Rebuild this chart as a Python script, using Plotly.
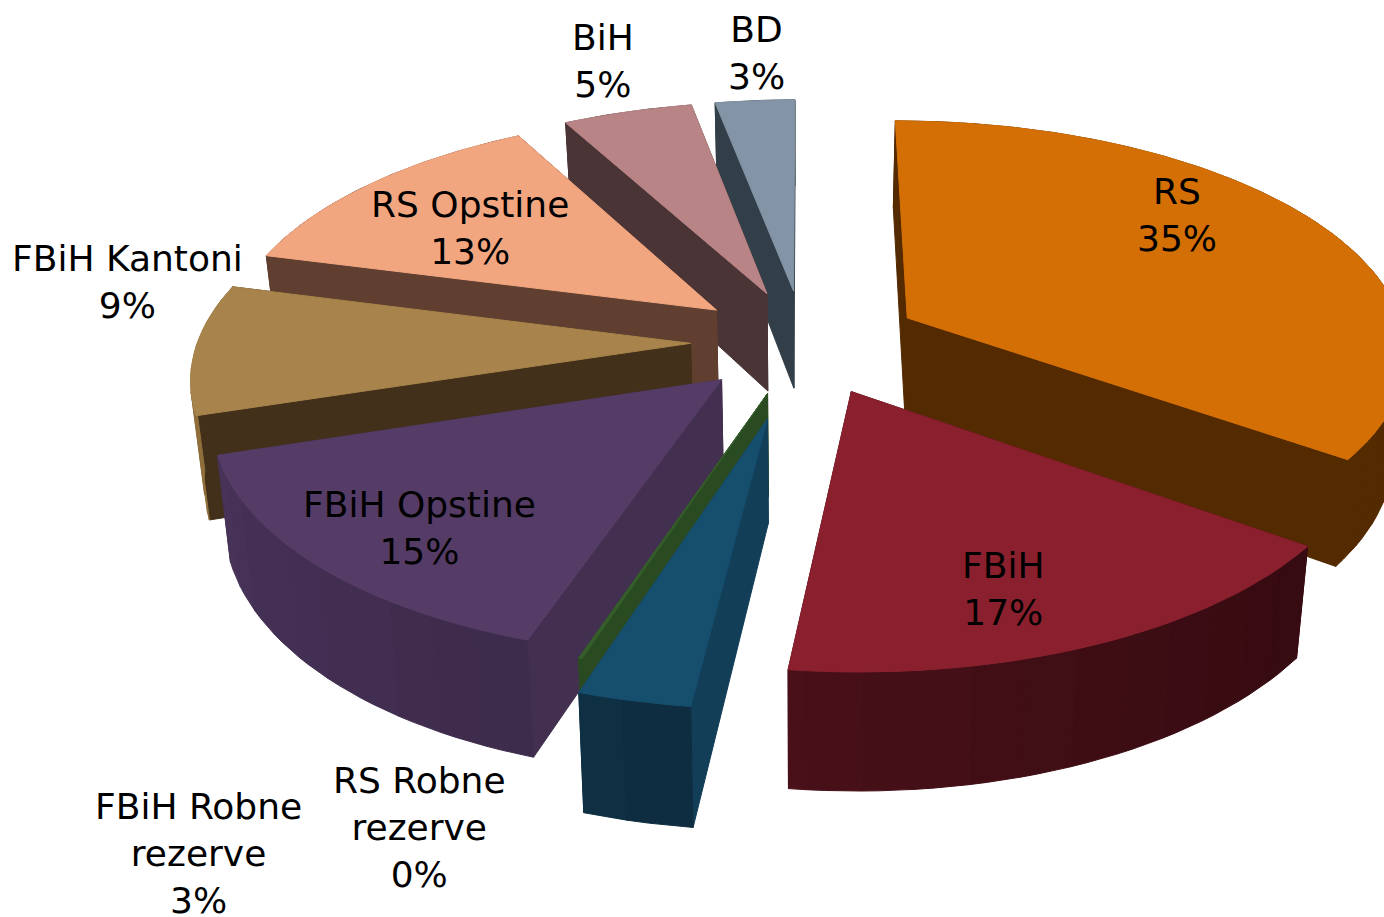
import numpy as np
import plotly.graph_objects as go

names = ["RS", "FBiH", "FBiH Robne<br>rezerve", "RS Robne<br>rezerve", "FBiH Opstine",
         "FBiH Kantoni", "RS Opstine", "BiH", "BD"]
values = [35, 16.9, 3.1, 0.1, 15, 9, 13, 4.9, 3]
explode = [0.235, 0.23, 0.33, 0.23, 0.23, 0.23, 0.23, 0.23, 0.23]
top_colors = ["#D36F05", "#8A202D", "#164E6E", "#355E2B", "#553C66", "#A8844C", "#F2A680", "#B88486", "#8294A6"]
radial_colors = ["#542A00", "#3F0D14", "#123E58", "#2A4A22", "#433050", "#42301A", "#603F30", "#4A3436", "#333F48"]
outer_left = ["#542A00", "#4A111A", "#103246", "#2A4A22", "#48335A", "#8F6F3C", "#603F30", "#4A3436", "#333F48"]
outer_right = ["#542A00", "#360B11", "#0E2D40", "#2A4A22", "#3E2C4C", "#8F6F3C", "#603F30", "#4A3436", "#333F48"]
label_pos = [(1177, 215), (1003, 589), (198, 853), (419, 827), (419, 528), (127, 282), (470, 228), (603, 61), (756, 53)]

CX, CY, SX_LEFT, SX_RIGHT, SY, K, H, TAPER = 804, 342, 493, 500, 229, 0.132, 100, 0.022


def project(X, Y, z):
    X, Y = np.asarray(X), np.asarray(Y)
    d = 1 + K * Y
    s = np.where(X < 0, SX_LEFT, SX_RIGHT)
    return CX + s * X / d * (1 - TAPER * z), CY - (SY * Y - H * z) / d


def hex_rgb(c):
    return np.array([int(c[i:i + 2], 16) for i in (1, 3, 5)])


def mix(a, b, t):
    v = (1 - t) * hex_rgb(a) + t * hex_rgb(b)
    return "rgb(%d,%d,%d)" % tuple(v)


fig = go.Figure()


def poly(xs, ys, color):
    fig.add_trace(go.Scatter(x=list(xs) + [xs[0]], y=list(ys) + [ys[0]], mode="lines", fill="toself",
                             fillcolor=color, line=dict(color=color, width=1),
                             hoverinfo="skip", showlegend=False))


total = sum(values)
edges = np.cumsum([0] + values) / total * 2 * np.pi
wedges = []
for i, v in enumerate(values):
    a0, a1 = edges[i], edges[i + 1]
    mid = (a0 + a1) / 2
    ex, ey = explode[i] * np.sin(mid), explode[i] * np.cos(mid)
    wedges.append((ey, i, a0, a1, ex, ey))

for _, i, a0, a1, ex, ey in sorted(wedges, key=lambda w: -w[0]):
    n = max(3, int((a1 - a0) / 0.03))
    t = np.linspace(a0, a1, n)
    Xo, Yo = ex + np.sin(t), ey + np.cos(t)
    faces = []
    step = 3
    for j in range(0, n - 1, step):
        k = min(j + step, n - 1)
        idx = np.arange(j, k + 1)
        faces.append((Yo[idx].mean(), list(Xo[idx]), list(Yo[idx]),
                      mix(outer_left[i], outer_right[i], 1 - j / (n - 1))))
    faces.append((ey + np.cos(a0) / 2, [ex, Xo[0]], [ey, Yo[0]], radial_colors[i]))
    faces.append((ey + np.cos(a1) / 2, [ex, Xo[-1]], [ey, Yo[-1]], radial_colors[i]))
    for _, fx, fy, col in sorted(faces, key=lambda f: -f[0]):
        x0, y0 = project(fx, fy, 0)
        x1, y1 = project(fx, fy, 1)
        poly(list(x0) + list(x1[::-1]), list(y0) + list(y1[::-1]), col)
    tx, ty = project([ex] + list(Xo), [ey] + list(Yo), 0)
    poly(list(tx), list(ty), top_colors[i])

for nm, v, (x, y) in zip(names, values, label_pos):
    fig.add_annotation(x=x, y=y, text=f"{nm}<br>{round(v)}%", showarrow=False, xanchor="center", yanchor="middle",
                       font=dict(family="DejaVu Sans", size=36, color="#000000"), align="center")

fig.update_layout(width=1384, height=917, margin=dict(l=0, r=0, t=0, b=0), paper_bgcolor="white",
                  plot_bgcolor="white", showlegend=False,
                  xaxis=dict(range=[0, 1384], visible=False, fixedrange=True),
                  yaxis=dict(range=[917, 0], visible=False, fixedrange=True))
fig.write_html("out.html", config={"displayModeBar": False},
               post_script="document.documentElement.style.overflow='hidden';document.body.style.margin='0';")
